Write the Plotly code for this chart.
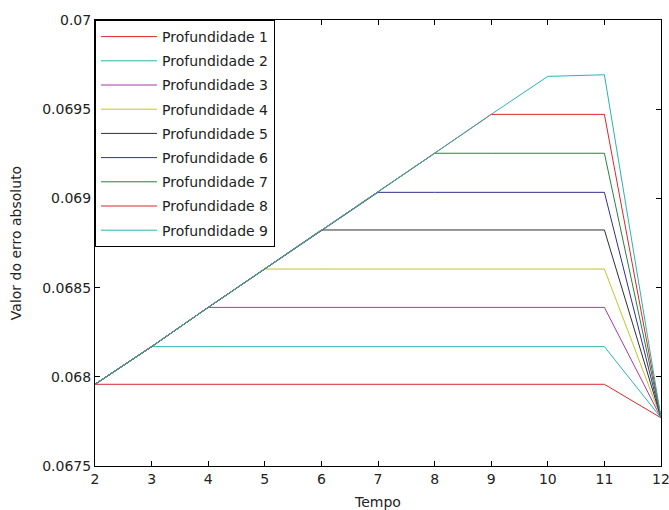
import plotly.graph_objects as go

tempo = [2, 3, 4, 5, 6, 7, 8, 9, 10, 11, 12]

nomes = ["Profundidade 1", "Profundidade 2", "Profundidade 3", "Profundidade 4",
         "Profundidade 5", "Profundidade 6", "Profundidade 7", "Profundidade 8",
         "Profundidade 9"]

prof1 = [0.067958, 0.067958, 0.067958, 0.067958, 0.067958, 0.067958, 0.067958, 0.067958, 0.067958, 0.067958, 0.067770]
prof2 = [0.067958, 0.068169, 0.068169, 0.068169, 0.068169, 0.068169, 0.068169, 0.068169, 0.068169, 0.068169, 0.067770]
prof3 = [0.067958, 0.068169, 0.068389, 0.068389, 0.068389, 0.068389, 0.068389, 0.068389, 0.068389, 0.068389, 0.067770]
prof4 = [0.067958, 0.068169, 0.068389, 0.068604, 0.068604, 0.068604, 0.068604, 0.068604, 0.068604, 0.068604, 0.067770]
prof5 = [0.067958, 0.068169, 0.068389, 0.068604, 0.068823, 0.068823, 0.068823, 0.068823, 0.068823, 0.068823, 0.067770]
prof6 = [0.067958, 0.068169, 0.068389, 0.068604, 0.068823, 0.069034, 0.069034, 0.069034, 0.069034, 0.069034, 0.067770]
prof7 = [0.067958, 0.068169, 0.068389, 0.068604, 0.068823, 0.069034, 0.069253, 0.069253, 0.069253, 0.069253, 0.067770]
prof8 = [0.067958, 0.068169, 0.068389, 0.068604, 0.068823, 0.069034, 0.069253, 0.069471, 0.069471, 0.069471, 0.067770]
prof9 = [0.067958, 0.068169, 0.068389, 0.068604, 0.068823, 0.069034, 0.069253, 0.069471, 0.069684, 0.069693, 0.067770]

series = [prof1, prof2, prof3, prof4, prof5, prof6, prof7, prof8, prof9]

cores = ["#d82828", "#28b4b4", "#a838a8", "#c4c428", "#303030",
         "#303090", "#288040", "#d82828", "#28b4b4"]

yticks = [0.0675, 0.068, 0.0685, 0.069, 0.0695, 0.07]
ytick_text = ["0.0675", "0.068", "0.0685", "0.069", "0.0695", "0.07"]
xticks = [2, 3, 4, 5, 6, 7, 8, 9, 10, 11, 12]

fig = go.Figure()
for i, (nome, ys) in enumerate(zip(nomes, series)):
    fig.add_trace(go.Scatter(x=tempo, y=ys, mode="lines", name=nome,
                             legendgroup="g%d" % i,
                             line=dict(color=cores[i], width=1)))

font = "DejaVu Sans, sans-serif"
fig.update_layout(
    width=669, height=510,
    margin=dict(l=95, r=8, t=20, b=44),
    paper_bgcolor="white", plot_bgcolor="white",
    font=dict(family=font, size=14, color="#222222"),
    showlegend=True,
    legend=dict(x=0, y=1, xanchor="left", yanchor="top",
                bgcolor="white", bordercolor="black", borderwidth=1,
                font=dict(family=font, size=14, color="#222222"),
                tracegroupgap=3, traceorder="grouped",
                itemwidth=56, entrywidth=185),
    xaxis=dict(range=[2, 12], tickvals=xticks, ticks="inside", ticklen=5,
               tickcolor="black", showline=True, linecolor="black", linewidth=1,
               mirror="ticks", showgrid=False, zeroline=False, automargin=False,
               ticklabeloverflow="allow",
               title=dict(text="Tempo", standoff=12, font=dict(size=14)),
               tickfont=dict(size=14)),
    yaxis=dict(range=[0.0675, 0.07], tickvals=yticks, ticktext=ytick_text,
               ticks="inside", ticklen=5, tickcolor="black", showline=True,
               linecolor="black", linewidth=1, mirror="ticks", showgrid=False,
               zeroline=False, automargin=False, ticklabeloverflow="allow",
               title=dict(text="Valor do erro absoluto", standoff=17, font=dict(size=14)),
               tickfont=dict(size=14)),
)

fig.write_html("out.html")
